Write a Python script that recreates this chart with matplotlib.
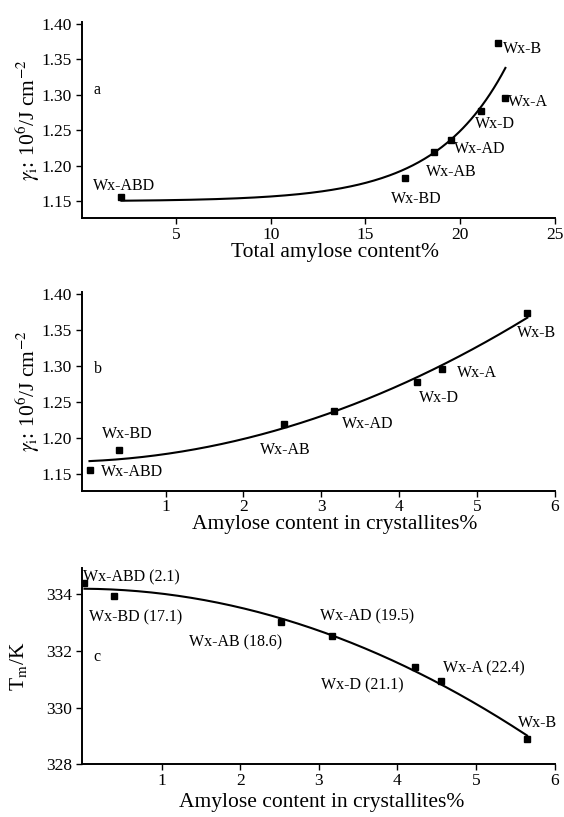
import numpy as np
import matplotlib
matplotlib.use("Agg")
import matplotlib.pyplot as plt

plt.rcParams['font.family'] = ['Liberation Serif', 'DejaVu Serif']
plt.rcParams['mathtext.fontset'] = 'stix'

# samples, in the same order everywhere
names = ['Wx-ABD', 'Wx-BD', 'Wx-AB', 'Wx-AD', 'Wx-D', 'Wx-A', 'Wx-B']
total_amylose = [2.1, 17.1, 18.6, 19.5, 21.1, 22.4, 22.0]
cryst_amylose = [0.02, 0.40, 2.52, 3.17, 4.23, 4.55, 5.65]
gamma_i = [1.156, 1.183, 1.219, 1.237, 1.277, 1.296, 1.373]
tm = [334.41, 333.96, 333.02, 332.53, 331.45, 330.95, 328.88]
c_labels = ['Wx-ABD (2.1)', 'Wx-BD (17.1)', 'Wx-AB (18.6)', 'Wx-AD (19.5)',
            'Wx-D (21.1)', 'Wx-A (22.4)', 'Wx-B']

# label offsets in pixels (dx, dy), left/center aligned
off_a = [(-28, 11), (-14, -21), (-8, -19.5), (3, -9), (-6, -13), (3, -4), (5, -5.5)]
off_b = [(11, -2), (-17, 16.5), (-24, -26), (7, -13), (2, -16), (15, -4), (-10, -20)]
off_c = [(-1, 5.5), (-25, -22), (-92, -20), (-12, 19.5), (-94, -18.5), (2, 12), (-9, 16.5)]


def exp_fit(x, y):
    # y = y0 + A*exp(k*x), k by grid search, y0/A by least squares
    x = np.asarray(x); y = np.asarray(y)
    best = None
    for k in np.linspace(0.01, 1.0, 2000):
        M = np.column_stack([np.ones_like(x), np.exp(k * x)])
        coef = np.linalg.lstsq(M, y, rcond=None)[0]
        r = np.sum((M @ coef - y) ** 2)
        if best is None or r < best[0]:
            best = (r, k, coef)
    _, k, coef = best
    return lambda t: coef[0] + coef[1] * np.exp(k * t)


def style(ax):
    ax.spines['top'].set_visible(False)
    ax.spines['right'].set_visible(False)
    for s in ['left', 'bottom']:
        ax.spines[s].set_linewidth(1.4)
    ax.tick_params(direction='out', length=4, width=1.0, labelsize=12.5, pad=3)
    ax.tick_params(axis='x', pad=2)


def label_points(ax, xs, ys, labels, offs):
    for x, y, t, (dx, dy) in zip(xs, ys, labels, offs):
        ax.annotate(t, (x, y), xytext=(dx, dy), textcoords='offset pixels',
                    ha='left', va='center', fontsize=11.5)


fig = plt.figure(figsize=(5.64, 8.17), dpi=100)
ylab = r'$\gamma_{\mathrm{i}}$: 10$^6$/J cm$^{-2}$'

# panel a
ax1 = fig.add_axes([0.1449, 0.7326, 0.8384, 0.2408])
f = exp_fit(total_amylose, gamma_i)
xx = np.linspace(min(total_amylose), max(total_amylose), 200)
ax1.plot(xx, f(xx), color='black', lw=1.5)
ax1.plot(total_amylose, gamma_i, 's', color='black', ms=4.7)
label_points(ax1, total_amylose, gamma_i, names, off_a)
ax1.set_xlim(0, 25)
ax1.set_ylim(1.126, 1.403)
ax1.set_xticks([5, 10, 15, 20, 25])
ax1.set_yticks([1.15, 1.20, 1.25, 1.30, 1.35, 1.40])
ax1.set_yticklabels(['%.2f' % v for v in ax1.get_yticks()])
ax1.set_xlabel('Total amylose content%', fontsize=15.5, labelpad=0)
ax1.xaxis.label.set_x(0.536)
ax1.set_ylabel(ylab, fontsize=15.5, labelpad=0)
style(ax1)

# panel b
ax2 = fig.add_axes([0.1449, 0.3990, 0.8384, 0.2440])
p = np.polyfit(cryst_amylose, gamma_i, 2)
xx = np.linspace(min(cryst_amylose), max(cryst_amylose), 200)
ax2.plot(xx, np.polyval(p, xx), color='black', lw=1.5)
ax2.plot(cryst_amylose, gamma_i, 's', color='black', ms=4.7)
label_points(ax2, cryst_amylose, gamma_i, names, off_b)
ax2.set_xlim(-0.08, 6)
ax2.set_ylim(1.1264, 1.403)
ax2.set_xticks([1, 2, 3, 4, 5, 6])
ax2.set_yticks([1.15, 1.20, 1.25, 1.30, 1.35, 1.40])
ax2.set_yticklabels(['%.2f' % v for v in ax2.get_yticks()])
ax2.set_xlabel('Amylose content in crystallites%', fontsize=15.5, labelpad=0)
ax2.xaxis.label.set_x(0.536)
ax2.set_ylabel(ylab, fontsize=15.5, labelpad=0)
style(ax2)

# panel c
ax3 = fig.add_axes([0.1449, 0.0644, 0.8384, 0.2400])
p = np.polyfit(cryst_amylose, tm, 2)
ax3.plot(xx, np.polyval(p, xx), color='black', lw=1.5)
ax3.plot(cryst_amylose, tm, 's', color='black', ms=4.7)
label_points(ax3, cryst_amylose, tm, c_labels, off_c)
ax3.set_xlim(-0.015, 6)
ax3.set_ylim(328, 334.92)
ax3.set_xticks([1, 2, 3, 4, 5, 6])
ax3.set_yticks([328, 330, 332, 334])
ax3.set_xlabel('Amylose content in crystallites%', fontsize=15.5, labelpad=3)
ax3.xaxis.label.set_x(0.507)
ax3.set_ylabel(r'T$_{\mathrm{m}}$/K', fontsize=15.5, labelpad=12)
style(ax3)

fig.text(93.6 / 564, 1 - 90 / 817, 'a', fontsize=11.5, va='center')
fig.text(94.3 / 564, 1 - 369 / 817, 'b', fontsize=11.5, va='center')
fig.text(93 / 564, 1 - 657 / 817, 'c', fontsize=11.5, va='center')

fig.savefig('out.png', dpi=100)
